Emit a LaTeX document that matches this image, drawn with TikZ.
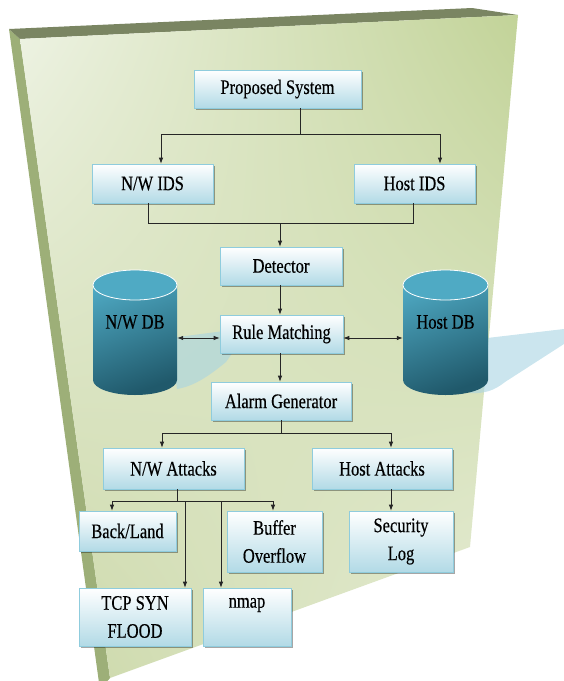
\documentclass[tikz,border=0pt]{standalone}
\usepackage{fontspec}
\setmainfont{Liberation Serif}[FakeBold=0.4]
\usetikzlibrary{arrows.meta,shadows,shadings,calc}
\definecolor{faceUL}{HTML}{EEF3E4}
\definecolor{faceUR}{HTML}{C2D398}
\definecolor{faceLL}{HTML}{CAD7A6}
\definecolor{faceLR}{HTML}{E8EED9}
\definecolor{topface}{HTML}{7A8562}
\definecolor{sideface}{HTML}{9DAF78}
\definecolor{boxB}{HTML}{B2DAE6}
\definecolor{boxE}{HTML}{8FCCDD}
\definecolor{cylA}{HTML}{4FAAC4}
\definecolor{cylB}{HTML}{20596B}
\definecolor{shd}{HTML}{A8D4E2}
\newcommand{\tx}[1]{\scalebox{1}[1.25]{#1}}
\begin{document}
\begin{tikzpicture}[x=1pt,y=-1pt,
 blk/.style={rectangle, draw=boxE, line width=0.6pt, top color=white, bottom color=boxB,
   inner sep=0pt, font=\fontsize{16.5}{28}\selectfont, align=center,
   drop shadow={shadow xshift=1.5pt, shadow yshift=-1.5pt, opacity=0.35, fill=black}},
 arr/.style={-{Latex[length=6pt,width=4.5pt]}, line width=0.8pt, draw=black!85},
 darr/.style={{Latex[length=6pt,width=4.5pt]}-{Latex[length=6pt,width=4.5pt]}, line width=0.8pt, draw=black!85},
 ln/.style={line width=0.8pt, draw=black!85},
 lbl/.style={font=\fontsize{16.5}{28}\selectfont, inner sep=0pt},
 cylbody/.style={top color=cylA, bottom color=cylB, shading angle=20},
 cyltop/.style={fill=cylA, draw=white, line width=0.8pt}]
\useasboundingbox (0,0) rectangle (564,681);
% board
\begin{scope}
\clip (0,0) rectangle (564,681);
\fill[sideface] (9,29) -- (20,39) -- (110,678) -- (100,690) -- cycle;
\fill[topface] (9,29) -- (472,8) -- (518,15) -- (20,39) -- cycle;
\shade[upper left=faceUL, upper right=faceUR, lower left=faceLL, lower right=faceLR] (20,39) -- (518,15) -- (470,547) -- (110,678) -- cycle;
% cylinder shadows
\fill[shd, opacity=0.6] (470,340) -- (564,329) -- (564,344) -- (505,382) .. controls (495,390) and (485,394) .. (470,393) -- cycle;
\fill[shd, opacity=0.6] (170,338) -- (232,330) -- (240,342) -- (226,362) .. controls (210,375) and (195,386) .. (177,389) -- cycle;
\end{scope}
% cylinders
\shade[cylbody] (93,285) -- (93,380) arc[start angle=180,end angle=360,x radius=42pt,y radius=15pt] -- (177,285) arc[start angle=0,end angle=180,x radius=42pt,y radius=15pt] -- cycle;
\path[cyltop] (135,285) ellipse [x radius=42pt, y radius=15pt];
\node[inner sep=0pt, minimum width=84pt, minimum height=125pt] (nwdb) at (135,332.5) {};
\node[lbl] (nwdbl) at (135,322) {\tx{N/W DB}};
\shade[cylbody] (403,285) -- (403,380) arc[start angle=180,end angle=360,x radius=42.5pt,y radius=15pt] -- (488,285) arc[start angle=0,end angle=180,x radius=42.5pt,y radius=15pt] -- cycle;
\path[cyltop] (445.5,285) ellipse [x radius=42.5pt, y radius=15pt];
\node[inner sep=0pt, minimum width=85pt, minimum height=125pt] (hdb) at (445.5,332.5) {};
\node[lbl] (hdbl) at (445.5,322) {\tx{Host DB}};
% boxes
\node[blk, minimum width=167pt, minimum height=38pt] (prop) at (277.5,89) {\tx{Proposed System}};
\node[blk, minimum width=121pt, minimum height=39pt] (nwids) at (152.5,183.5) {\tx{N/W IDS}};
\node[blk, minimum width=121pt, minimum height=39pt] (hids) at (414.5,183.5) {\tx{Host IDS}};
\node[blk, minimum width=122pt, minimum height=38pt] (det) at (281,266) {\tx{Detector}};
\node[blk, minimum width=123pt, minimum height=38pt] (rule) at (281.5,334) {\tx{Rule Matching}};
\node[blk, minimum width=140pt, minimum height=38pt] (alarm) at (281,401) {\tx{Alarm Generator}};
\node[blk, minimum width=141pt, minimum height=41pt] (nwatt) at (173.5,468.5) {\tx{N/W Attacks}};
\node[blk, minimum width=140pt, minimum height=41pt] (hatt) at (382,468.5) {\tx{Host Attacks}};
\node[blk, minimum width=97pt, minimum height=40pt] (back) at (127.5,531) {\tx{Back/Land}};
\node[blk, minimum width=95pt, minimum height=61pt] (buf) at (274.5,541.5) {\tx{Buffer}\\\tx{Overflow}};
\node[blk, minimum width=104pt, minimum height=61pt] (sec) at (401,541.5) {\tx{Security}\\\tx{Log}};
\node[blk, minimum width=112pt, minimum height=58pt] (tcp) at (135,617) {\tx{TCP SYN}\\\tx{FLOOD}};
\node[blk, minimum width=88pt, minimum height=58pt] (nmap) at (247,617) {\tx{nmap}\\[-8pt]\strut};
% connectors: top
\coordinate (p1) at (300,134);
\coordinate (pl) at (161,134);
\coordinate (pr) at (440,134);
\draw[ln] (p1 |- prop.south) -- (p1);
\draw[ln] (pl) -- (pr);
\draw[arr] (pl) -- (pl |- nwids.north);
\draw[arr] (pr) -- (pr |- hids.north);
\coordinate (il) at (148,223);
\coordinate (ir) at (413,223);
\coordinate (im) at (280,223);
\draw[ln] (il |- nwids.south) -- (il) -- (ir) -- (ir |- hids.south);
\draw[arr] (im) -- (im |- det.north);
\draw[arr] (det.south -| im) -- (rule.north -| im);
\draw[arr] (rule.south -| im) -- (alarm.north -| im);
\draw[darr] ([yshift=-4pt]nwdb.east |- rule.west) -- ([yshift=-4pt]rule.west);
\draw[darr] ([yshift=-4pt]rule.east) -- ([yshift=-4pt]hdb.west |- rule.east);
% alarm split
\coordinate (am) at (281,433);
\coordinate (al) at (162,433);
\coordinate (ar) at (391,433);
\draw[ln] (alarm.south -| am) -- (am);
\draw[ln] (al) -- (ar);
\draw[arr] (al) -- (al |- nwatt.north);
\draw[arr] (ar) -- (ar |- hatt.north);
\draw[arr] (hatt.south -| ar) -- (sec.north -| ar);
% N/W attacks split
\coordinate (nm) at (177,501);
\coordinate (b1) at (112,501);
\coordinate (b2) at (273,501);
\coordinate (t1) at (185,501);
\coordinate (t2) at (221,501);
\draw[ln] (nwatt.south -| nm) -- (nm);
\draw[ln] (b1) -- (b2);
\draw[arr] (b1) -- (b1 |- back.north);
\draw[arr] (b2) -- (b2 |- buf.north);
\draw[arr] (t1) -- (t1 |- tcp.north);
\draw[arr] (t2) -- (t2 |- nmap.north);
\end{tikzpicture}
\end{document}
